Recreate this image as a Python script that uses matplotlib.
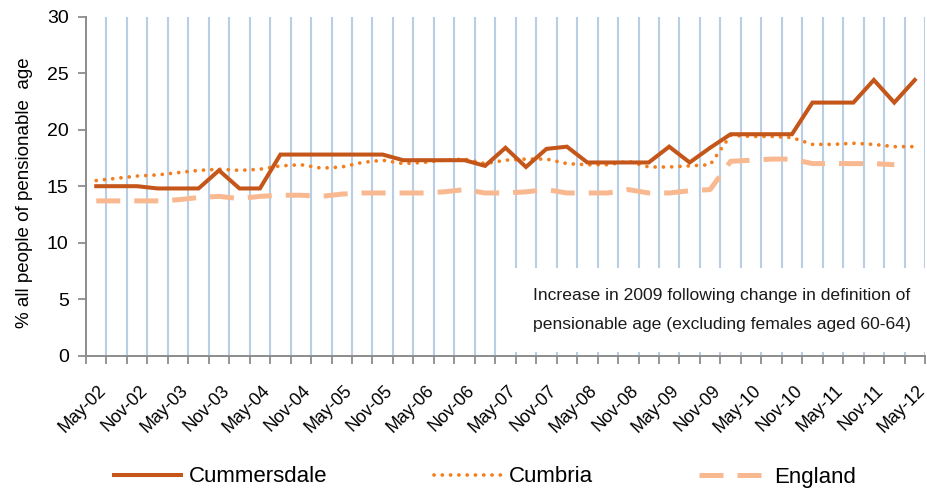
import numpy as np
import matplotlib
matplotlib.use("Agg")
import matplotlib.pyplot as plt
from matplotlib.transforms import ScaledTranslation
from matplotlib.patches import Rectangle

plt.rcParams['font.family'] = ['Liberation Sans', 'DejaVu Sans']

quarters = []
for yr in range(2, 13):
    for m in ['Feb', 'May', 'Aug', 'Nov']:
        quarters.append(f"{m}-{yr:02d}")
quarters = quarters[1:42]  # May-02 .. May-12 (41 quarters)

cummersdale = [15.0, 15.0, 15.0, 14.8, 14.8, 14.8, 16.4, 14.8, 14.8, 17.8,
               17.8, 17.8, 17.8, 17.8, 17.8, 17.3, 17.3, 17.3, 17.3, 16.8,
               18.4, 16.7, 18.3, 18.5, 17.1, 17.1, 17.1, 17.1, 18.5, 17.1,
               18.4, 19.6, 19.6, 19.6, 19.6, 22.4, 22.4, 22.4, 24.4, 22.4,
               24.4]
cumbria = [15.5, 15.7, 15.9, 16.0, 16.2, 16.4, 16.5, 16.4, 16.5, 16.8,
           16.9, 16.6, 16.7, 17.1, 17.3, 17.0, 17.1, 17.3, 17.4, 17.0,
           17.3, 17.4, 17.4, 17.0, 16.9, 16.9, 17.2, 16.7, 16.7, 16.8,
           16.9, 19.5, 19.4, 19.4, 19.3, 18.7, 18.7, 18.8, 18.7, 18.5,
           18.5]
england = [13.7, 13.7, 13.7, 13.7, 13.8, 14.0, 14.1, 13.9, 14.1, 14.2,
           14.2, 14.1, 14.3, 14.4, 14.4, 14.4, 14.4, 14.5, 14.7, 14.4,
           14.4, 14.5, 14.7, 14.4, 14.4, 14.4, 14.7, 14.4, 14.4, 14.6,
           14.7, 17.2, 17.3, 17.4, 17.4, 17.0, 17.0, 17.0, 17.0, 16.9,
           np.nan]

series_names = ['Cummersdale', 'Cumbria', 'England']
annotation_lines = ["Increase in 2009 following change in definition of",
                    "pensionable age (excluding females aged 60-64)"]
ylabel = "% all people of pensionable  age"

fig = plt.figure(figsize=(9.28, 4.88), dpi=100)
ax = fig.add_axes([86/928, 1-355.7/488, 839/928, (355.7-16.7)/488])

n = len(quarters)
x = np.arange(n)
ax.set_xlim(-0.5, n-0.5)
ax.set_ylim(0, 30)

# category boundaries: ticks + grid
bounds = np.arange(-0.5, n, 1.0)
ax.set_xticks(bounds)
ax.set_xticklabels([])
for b in bounds[1:]:
    ax.axvline(b, color='#B9CDE5', lw=1.5, zorder=1)

# labels every 2 categories at centres
ax.set_xticks(x[::2], minor=True)
ax.set_xticklabels(quarters[::2], minor=True, rotation=45, ha='right',
                   va='top', rotation_mode='anchor', fontsize=12.8)
ax.tick_params(axis='x', which='minor', length=0, pad=19)
off = ScaledTranslation(1.5/100, 0, fig.dpi_scale_trans)
for lab in ax.get_xticklabels(which='minor'):
    lab.set_transform(lab.get_transform() + off)

ax.tick_params(axis='x', which='major', length=6, width=1.3, color='#8C8C8C', direction='out')
ax.set_yticks(range(0, 31, 5))
ax.tick_params(axis='y', length=6, width=1.3, color='#8C8C8C', labelsize=14, pad=6.5)

for s in ['top', 'right']:
    ax.spines[s].set_visible(False)
for s in ['left', 'bottom']:
    ax.spines[s].set_color('#8C8C8C')
    ax.spines[s].set_linewidth(1.4)

# white box behind annotation
ax.add_patch(Rectangle((0.508, 0.012), 0.495, 0.247, transform=ax.transAxes,
                       facecolor='white', edgecolor='none', zorder=2, clip_on=False))
for yy, line in zip([0.179, 0.0906], annotation_lines):
    ax.text(0.533, yy, line, transform=ax.transAxes, fontsize=12.6,
            ha='left', va='center', zorder=3, color='#1a1a1a')

l1, = ax.plot(x, cummersdale, color='#C4561A', lw=2.9, zorder=5,
              solid_joinstyle='miter', label=series_names[0])
l2, = ax.plot(x, cumbria, color='#F47E1E', lw=2.7, linestyle=(0, (0.01, 2.2)),
              dash_capstyle='round', zorder=4, label=series_names[1])
l3, = ax.plot(x, england, color='#F9B990', lw=3.6, linestyle=(0, (4.8, 2.8)),
              zorder=3, label=series_names[2])

ax.set_ylabel(ylabel, fontsize=13.5)
ax.yaxis.set_label_coords(-0.063, 0.48)

fig.legend(handles=[l1, l2, l3], labels=series_names, loc='center', ncol=3,
           bbox_to_anchor=(485/928, 11/488), frameon=False, fontsize=16,
           handlelength=3.0, handletextpad=0.35, columnspacing=4.8)

fig.savefig('out.png', dpi=100)
